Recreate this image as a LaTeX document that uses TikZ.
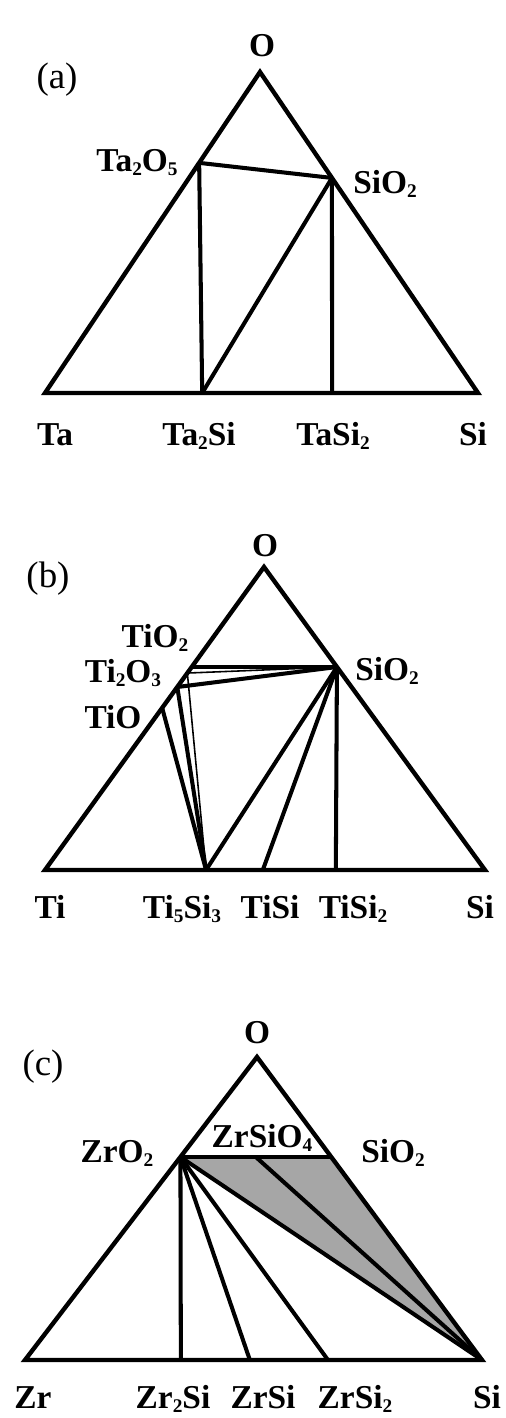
\documentclass[tikz,border=0pt]{standalone}
\usepackage{fontspec}
\setmainfont{Liberation Serif}
\usepackage{tikz}
\usetikzlibrary{calc}

\newcommand{\sbs}[1]{\raisebox{-0.3ex}{\fontsize{11}{11}\selectfont #1}}

\begin{document}
\begin{tikzpicture}[x=0.02cm,y=-0.02cm,line join=miter,
	tri/.style={line width=2.5pt},
	tieln/.style={line width=2.3pt},
	faint/.style={line width=0.9pt},
	lbl/.style={font=\fontsize{19}{19}\selectfont\bfseries,anchor=base,inner sep=0pt},
	tag/.style={font=\fontsize{21}{21}\selectfont,inner sep=0pt}]
	\useasboundingbox (0,0) rectangle (506,1418);
	
	% (a) Ta-Si-O
	\coordinate (aTa) at (45,393);
	\coordinate (aSi) at (478,393);
	\coordinate (aO) at (260,72);
	\coordinate (aTaO) at ($(aTa)!0.717!(aO)$);
	\coordinate (aSiO) at ($(aSi)!0.67!(aO)$);
	\coordinate (aTaSi) at ($(aTa)!0.363!(aSi)$);
	\coordinate (aTaSiT) at ($(aTa)!0.663!(aSi)$);
	
	\draw[tri] (aTa)--(aSi)--(aO)--cycle;
	\draw[tieln] (aTaO)--(aSiO);
	\draw[tieln] (aTaO)--(aTaSi);
	\draw[tieln] (aSiO)--(aTaSi);
	\draw[tieln] (aSiO)--(aTaSiT);
	
	\node[tag] (atag) at (57,80) {(a)};
	\node[lbl] (laO) at (262,56) {O};
	\node[lbl] (laTaO) at (137,171) {Ta\sbs{2}O\sbs{5}};
	\node[lbl] (laSiO) at (385,193) {SiO\sbs{2}};
	\node[lbl] (laTa) at (55,445) {Ta};
	\node[lbl] (laTaSi) at (199,445) {Ta\sbs{2}Si};
	\node[lbl] (laTaSiT) at (333,445) {TaSi\sbs{2}};
	\node[lbl] (laSi) at (473,445) {Si};
	
	% (b) Ti-Si-O
	\coordinate (bTi) at (45,870);
	\coordinate (bSi) at (485,870);
	\coordinate (bO) at (264,567);
	\coordinate (bSiO) at ($(bSi)!0.67!(bO)$);
	\coordinate (bTiOt) at ($(bTi)!0.67!(bO)$);
	\coordinate (bTiOm) at ($(bTi)!0.65!(bO)$);
	\coordinate (bTiOs) at ($(bTi)!0.604!(bO)$);
	\coordinate (bTiO) at ($(bTi)!0.535!(bO)$);
	\coordinate (bTiSiF) at ($(bTi)!0.366!(bSi)$);
	\coordinate (bTiSi) at ($(bTi)!0.495!(bSi)$);
	\coordinate (bTiSiT) at ($(bTi)!0.661!(bSi)$);
	
	\draw[tri] (bTi)--(bSi)--(bO)--cycle;
	\draw[tieln] (bTiOt)--(bSiO);
	\draw[faint] (bTiOm)--(bSiO);
	\draw[tieln] (bTiOs)--(bSiO);
	\draw[tieln] (bTiOs)--(bTiSiF);
	\draw[faint] (bTiOm)--(bTiSiF);
	\draw[tieln] (bTiO)--(bTiSiF);
	\draw[tieln] (bSiO)--(bTiSiF);
	\draw[tieln] (bSiO)--(bTiSi);
	\draw[tieln] (bSiO)--(bTiSiT);
	
	\node[tag] (btag) at (48,579) {(b)};
	\node[lbl] (lbO) at (265,556) {O};
	\node[lbl] (lbTiOt) at (155,647) {TiO\sbs{2}};
	\node[lbl] (lbTiOs) at (123,682) {Ti\sbs{2}O\sbs{3}};
	\node[lbl] (lbTiO) at (113,728) {TiO};
	\node[lbl] (lbSiO) at (387,680) {SiO\sbs{2}};
	\node[lbl] (lbTi) at (50,918) {Ti};
	\node[lbl] (lbTiSiF) at (182,918) {Ti\sbs{5}Si\sbs{3}};
	\node[lbl] (lbTiSi) at (270,918) {TiSi};
	\node[lbl] (lbTiSiT) at (353,918) {TiSi\sbs{2}};
	\node[lbl] (lbSi) at (480,918) {Si};
	
	% (c) Zr-Si-O
	\coordinate (cZr) at (25,1360);
	\coordinate (cSi) at (482,1360);
	\coordinate (cO) at (257,1057);
	\coordinate (cZrO) at ($(cZr)!0.67!(cO)$);
	\coordinate (cSiO) at ($(cSi)!0.67!(cO)$);
	\coordinate (cZrSiO) at ($(cZrO)!0.5!(cSiO)$);
	\coordinate (cZrSiH) at ($(cZr)!0.341!(cSi)$);
	\coordinate (cZrSi) at ($(cZr)!0.492!(cSi)$);
	\coordinate (cZrSiT) at ($(cZr)!0.663!(cSi)$);
	
	\fill[black!35] (cZrO)--(cSiO)--(cSi)--cycle;
	\draw[tri] (cZr)--(cSi)--(cO)--cycle;
	\draw[tieln] (cZrO)--(cSiO);
	\draw[tieln] (cZrO)--(cZrSiH);
	\draw[tieln] (cZrO)--(cZrSi);
	\draw[tieln] (cZrO)--(cZrSiT);
	\draw[tieln] (cZrO)--(cSi);
	\draw[tieln] (cZrSiO)--(cSi);
	
	\node[tag] (ctag) at (43,1067) {(c)};
	\node[lbl] (lcO) at (257,1043) {O};
	\node[lbl] (lcZrO) at (117,1162) {ZrO\sbs{2}};
	\node[lbl] (lcZrSiO) at (262,1147) {ZrSiO\sbs{4}};
	\node[lbl] (lcSiO) at (393,1162) {SiO\sbs{2}};
	\node[lbl] (lcZr) at (33,1408) {Zr};
	\node[lbl] (lcZrSiH) at (173,1408) {Zr\sbs{2}Si};
	\node[lbl] (lcZrSi) at (263,1408) {ZrSi};
	\node[lbl] (lcZrSiT) at (355,1408) {ZrSi\sbs{2}};
	\node[lbl] (lcSi) at (487,1408) {Si};
\end{tikzpicture}
\end{document}
